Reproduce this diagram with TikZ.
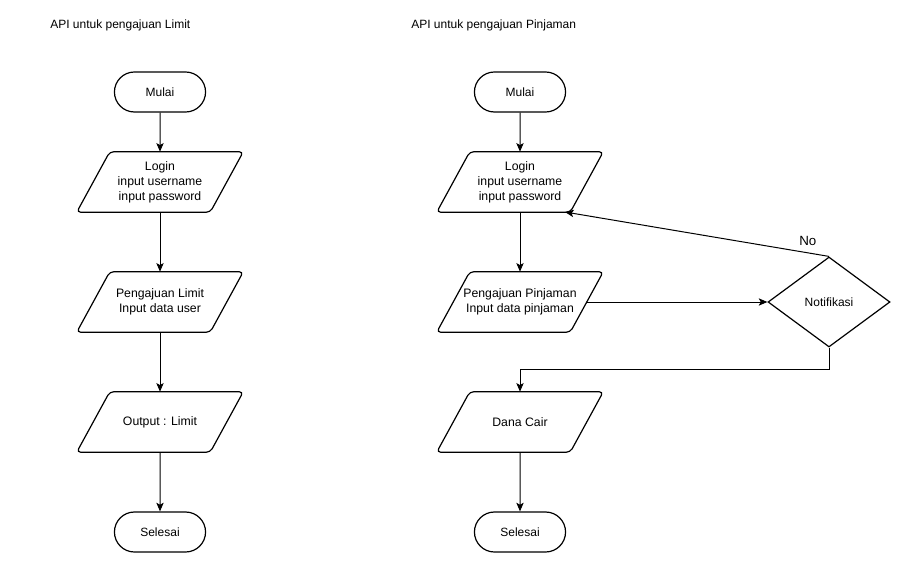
\documentclass[tikz,border=0pt]{standalone}
\usepackage{fontspec}
\setmainfont{Liberation Sans}
\usetikzlibrary{arrows.meta}
\usetikzlibrary{shapes.geometric, shapes.misc}

\begin{document}
\begin{tikzpicture}[x=0.75pt, y=-0.75pt]
\tikzstyle{terminal} = [rounded rectangle, draw=black, line width=0.9pt, minimum width=75pt, minimum height=30pt, font=\fontsize{9}{11}\selectfont]
\tikzstyle{io} = [rectangle, minimum width=99.75pt, minimum height=45pt, inner sep=0pt, align=center, font=\fontsize{9.2}{11.3}\selectfont,
  append after command={\pgfextra{\draw[line width=0.9pt, rounded corners=3pt]
    ([xshift=12.4pt]\tikzlastnode.north west) -- ([xshift=12.4pt]\tikzlastnode.north east) --
    ([xshift=-12.4pt]\tikzlastnode.south east) -- ([xshift=-12.4pt]\tikzlastnode.south west) -- cycle;}}]
\tikzstyle{decision} = [diamond, draw=black, line width=0.9pt, minimum width=91.5pt, minimum height=67.5pt, inner sep=0pt, font=\fontsize{9}{11}\selectfont]
\tikzstyle{title} = [anchor=west, inner sep=0pt, font=\fontsize{9}{11}\selectfont]
\tikzstyle{flow} = [-{Stealth[length=6.5pt, width=5.5pt, inset=1.5pt]}, draw=black, line width=0.75pt]

\useasboundingbox (0,0) rectangle (900,563);

\node[title] (titleL) at (50,25) {API untuk pengajuan Limit};
\node[title] (titleP) at (411,25) {API untuk pengajuan Pinjaman};

% limit
\node[terminal] (startL) at (160,92) {Mulai};
\node[io] (loginL) at (160,182) {Login\\input username\\ input password};
\node[io] (limit) at (160,302) {Pengajuan Limit\\Input data user};
\node[io] (output) at (160,422) {Output : Limit};
\node[terminal] (endL) at (160,532) {Selesai};

% pinjaman
\node[terminal] (startP) at (520,92) {Mulai};
\node[io] (loginP) at (520,182) {Login\\input username\\ input password};
\node[io] (pinjam) at (520,302) {Pengajuan Pinjaman\\Input data pinjaman};
\node[decision] (notif) at (829,302) {Notifikasi};
\node[io] (cair) at (520,422) {Dana Cair};
\node[terminal] (endP) at (520,532) {Selesai};
\coordinate (back) at (565,212);

\path (startL) edge[flow] (loginL);
\path (loginL) edge[flow] (limit);
\path (limit) edge[flow] (output);
\path (output) edge[flow] (endL);

\path (startP) edge[flow] (loginP);
\path (loginP) edge[flow] (pinjam);
\path (pinjam) edge[flow] (notif);
\path (notif.north) edge[flow] node[pos=0.08, above=2pt, font=\fontsize{10}{12}\selectfont] {No} (back);
\draw[flow] (notif.south) -- ++(0,22) -| (cair.north);
\path (cair) edge[flow] (endP);
\end{tikzpicture}
\end{document}
